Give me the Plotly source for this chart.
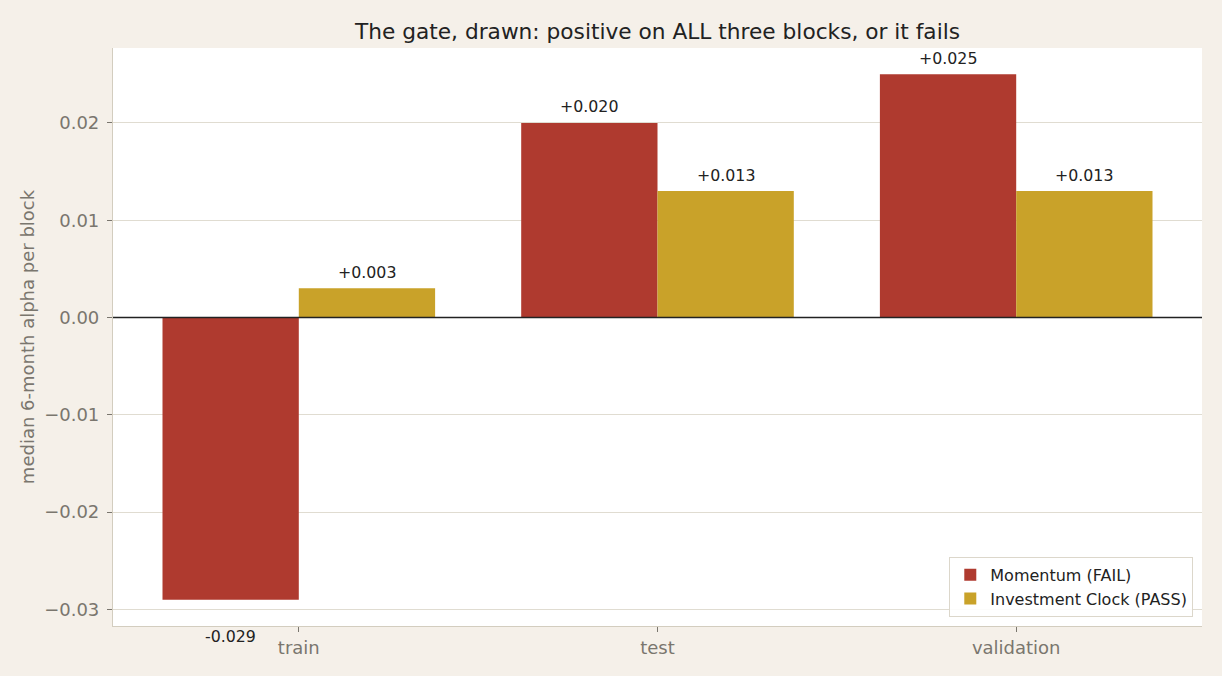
import plotly.graph_objects as go

categories = ["train", "test", "validation"]
momentum = [-0.029, 0.020, 0.025]
inv_clock = [0.003, 0.013, 0.013]
ytick_vals = [-0.03, -0.02, -0.01, 0.0, 0.01, 0.02]
ytick_text = ["\u22120.03", "\u22120.02", "\u22120.01", "0.00", "0.01", "0.02"]

RED = "#af3a2f"
GOLD = "#c9a229"
BG = "#f5f0e9"
GRID = "#e0dcd1"
AXIS = "#d3cdbf"
TICK = "#7a766e"
TXT = "#222222"
FONT = "DejaVu Sans"

xs = list(range(len(categories)))
W = 0.38

fig = go.Figure()
fig.add_trace(go.Bar(x=xs, y=momentum, width=W, offset=-W, marker=dict(color=RED, line=dict(width=0)),
                     name="Momentum (FAIL)"))
fig.add_trace(go.Bar(x=xs, y=inv_clock, width=W, offset=0, marker=dict(color=GOLD, line=dict(width=0)),
                     name="Investment Clock (PASS)"))

def fmt(v):
    return ("+%.3f" % v) if v >= 0 else ("%.3f" % v)

for i in xs:
    for v, dx in ((momentum[i], -W / 2), (inv_clock[i], W / 2)):
        fig.add_annotation(x=i + dx, y=v, text=fmt(v), showarrow=False,
                           yshift=16 if v >= 0 else -37,
                           font=dict(family=FONT, size=15.8, color=TXT))

fig.add_shape(type="line", xref="paper", x0=0, x1=1, yref="y", y0=0, y1=0,
              line=dict(color="#222222", width=1.6), layer="above")

fig.update_layout(
    width=1222, height=676,
    paper_bgcolor=BG, plot_bgcolor="white",
    margin=dict(l=113, r=20, t=48, b=50),
    barmode="overlay",
    title=dict(text="The gate, drawn: positive on ALL three blocks, or it fails",
               x=(113 + 1202) / 2 / 1222, xanchor="center", y=1 - 31 / 676, yanchor="middle",
               font=dict(family=FONT, size=21.7, color=TXT)),
    font=dict(family=FONT, color=TICK),
    showlegend=True,
    legend=dict(x=0.992, xanchor="right", y=0.016, yanchor="bottom",
                bgcolor="rgba(255,255,255,0.9)", bordercolor="#dcd7cb", borderwidth=1,
                font=dict(family=FONT, size=16, color=TXT), tracegroupgap=2),
    xaxis=dict(range=[-0.518, 2.518], tickvals=xs, ticktext=categories,
               showgrid=False, zeroline=False, showline=True, linecolor=AXIS, linewidth=1.2,
               ticks="outside", ticklen=5, tickcolor=TICK, tickfont=dict(family=FONT, size=18, color=TICK)),
    yaxis=dict(range=[-0.0317, 0.0277], tickvals=ytick_vals, ticktext=ytick_text,
               showgrid=True, gridcolor=GRID, gridwidth=1, zeroline=False,
               showline=True, linecolor=AXIS, linewidth=1.2, ticklabelstandoff=4,
               ticks="outside", ticklen=5, tickcolor=TICK, tickfont=dict(family=FONT, size=18, color=TICK),
               title=dict(text="median 6-month alpha per block", font=dict(family=FONT, size=18, color=TICK),
                          standoff=4)),
)

fig.write_html("out.html")
